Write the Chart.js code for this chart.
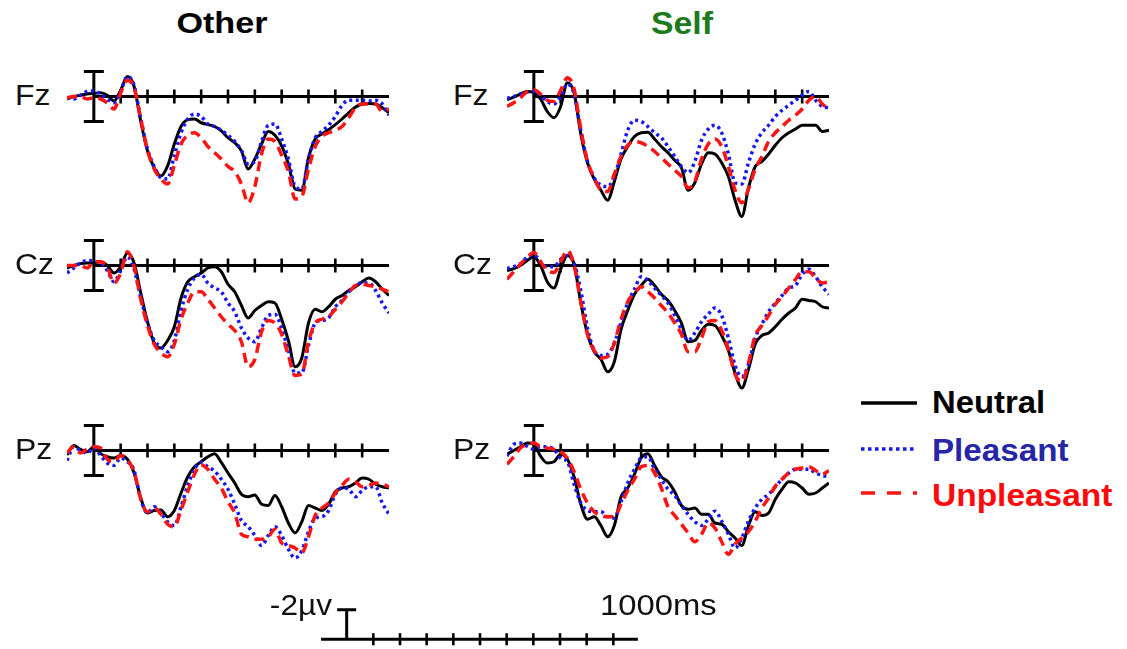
<!DOCTYPE html>
<html>
<head>
<meta charset="utf-8">
<script src="https://cdn.jsdelivr.net/npm/chart.js@4.4.0/dist/chart.umd.min.js"></script>
<style>
  html, body { margin: 0; padding: 0; background: #fff; overflow: hidden; }
  #stage { position: relative; width: 1127px; height: 649px; font-family: "Liberation Sans", Arial, sans-serif; }
  .txt { position: absolute; white-space: nowrap; color: #111; }
  canvas { position: absolute; }
</style>
</head>
<body>
<div id="stage"></div>
<script>
// time points (ms), one value every 25 ms
const times = [-100, -75, -50, -25, 0, 25, 50, 75, 100, 125, 150, 175, 200, 225, 250, 275, 300, 325, 350, 375,
  400, 425, 450, 475, 500, 525, 550, 575, 600, 625, 650, 675, 700, 725, 750, 775, 800, 825, 850, 875,
  900, 925, 950, 975, 1000, 1025, 1050, 1075, 1100];
const tickTimes = [100, 200, 300, 400, 500, 600, 700, 800, 900, 1000];
const conditions = ['Neutral', 'Pleasant', 'Unpleasant'];
const groups = ['Other', 'Self'];
const electrodes = ['Fz', 'Cz', 'Pz'];
const barMicroVolts = 2;

// amplitudes in µV (positive plotted downward)
const otherFzNeutral = [0.2, 0.0, -0.1, -0.2, -0.25, -0.3, -0.1, 0.35, -0.5, -1.6, -0.8, 2.0, 4.35, 5.7, 6.35, 5.55, 3.8, 2.4, 1.85, 1.8,
  2.1, 2.25, 2.4, 2.75, 3.3, 3.7, 4.35, 5.8, 5.0, 3.8, 2.8, 3.1, 3.95, 5.4, 7.4, 7.5, 4.9, 3.4, 3.0, 2.65,
  2.25, 1.8, 1.3, 0.85, 0.6, 0.55, 0.6, 0.9, 1.3];
const otherFzPleasant = [0.1, 0.2, -0.1, -0.4, -0.45, -0.2, 0.2, 0.5, -0.4, -1.6, -0.9, 1.8, 4.2, 5.6, 6.5, 6.6, 4.7, 2.9, 1.8, 1.4,
  1.6, 2.2, 2.4, 2.7, 3.1, 3.6, 4.3, 5.4, 5.2, 3.6, 2.3, 2.2, 3.4, 5.0, 7.2, 7.4, 5.0, 3.3, 2.8, 2.3,
  1.6, 0.7, 0.3, 0.3, 0.3, 0.35, 0.3, 0.6, 1.5];
const otherFzUnpleasant = [0.1, 0.0, 0.0, 0.2, 0.1, 0.2, 0.5, 1.0, -0.3, -1.3, -0.7, 1.8, 4.3, 5.8, 6.6, 7.0, 5.5, 3.8, 3.1, 2.9,
  3.3, 4.0, 4.5, 5.0, 5.6, 6.0, 7.0, 8.5, 7.2, 4.6, 3.4, 3.6, 4.7, 6.0, 8.2, 8.0, 5.8, 4.0, 3.2, 2.9,
  2.7, 2.4, 1.7, 0.9, 0.6, 0.6, 0.6, 1.2, 1.0];

const selfFzNeutral = [0.25, 0.05, -0.2, -0.4, -0.3, 0.2, 1.2, 1.7, 0.8, -1.1, -0.3, 3.0, 5.3, 6.6, 7.5, 8.3, 6.8, 5.0, 4.0, 3.2,
  2.9, 2.85, 3.4, 4.0, 4.5, 5.1, 5.7, 7.5, 6.9, 5.4, 4.5, 4.6, 5.3, 6.4, 8.3, 9.6, 7.3, 5.6, 5.2, 4.6,
  3.9, 3.3, 2.9, 2.6, 2.3, 2.3, 2.3, 2.8, 2.7];
const selfFzPleasant = [0.15, 0.0, -0.2, -0.35, -0.4, -0.1, 0.4, 0.6, 0.0, -1.0, -0.2, 2.7, 5.2, 6.5, 7.1, 7.2, 6.4, 4.6, 2.7, 1.9,
  2.0, 2.4, 2.9, 3.3, 4.0, 4.8, 5.6, 6.1, 5.2, 3.5, 2.6, 2.3, 2.9, 4.6, 6.9, 7.0, 5.3, 3.8, 2.9, 2.3,
  1.6, 1.1, 0.7, 0.3, -0.1, -0.4, 0.3, 0.8, 0.9];
const selfFzUnpleasant = [0.8, 0.5, 0.1, -0.4, -0.55, -0.2, 0.3, 0.4, -0.5, -1.5, -0.6, 2.6, 5.2, 6.5, 7.5, 7.6, 6.2, 4.8, 3.9, 3.6,
  3.7, 4.0, 4.4, 4.9, 5.4, 5.9, 6.4, 7.3, 6.8, 5.0, 3.8, 3.4, 4.0, 5.6, 7.5, 8.5, 7.4, 5.8, 4.8, 3.6,
  2.9, 2.4, 1.9, 1.5, 1.0, 0.3, 0.0, 0.6, 1.0];

const otherCzNeutral = [0.2, 0.0, -0.15, -0.2, -0.2, -0.3, 0.0, 0.6, 0.1, -1.0, -0.2, 2.2, 4.5, 6.2, 6.6, 6.0, 4.9, 2.6, 1.3, 0.9,
  0.6, 0.2, 0.1, 0.5, 1.5, 2.1, 3.2, 4.2, 3.6, 3.2, 2.9, 3.0, 4.3, 6.0, 8.1, 7.4, 4.6, 3.5, 3.7, 3.3,
  2.7, 2.4, 2.0, 1.7, 1.3, 1.0, 1.3, 1.9, 2.4];
const otherCzPleasant = [0.6, 0.2, -0.2, -0.4, -0.35, -0.2, 0.4, 1.3, 0.4, -0.7, 0.3, 2.6, 4.6, 6.0, 6.5, 6.9, 6.0, 3.6, 1.9, 1.0,
  0.7, 1.4, 1.8, 2.1, 3.0, 3.7, 5.0, 5.8, 6.1, 5.0, 4.0, 3.9, 5.0, 6.8, 8.6, 8.6, 6.4, 4.6, 4.4, 4.2,
  3.3, 2.8, 2.1, 1.6, 1.4, 1.4, 2.0, 3.0, 3.8];
const otherCzUnpleasant = [0.0, 0.0, 0.0, 0.2, -0.3, -0.3, 0.1, 1.4, 0.6, -1.1, 0.1, 2.7, 4.8, 6.3, 7.0, 7.3, 6.3, 4.3, 3.0, 2.1,
  2.1, 2.7, 3.4, 4.1, 4.7, 5.2, 6.1, 8.1, 7.5, 5.3, 4.4, 4.6, 5.5, 7.2, 8.8, 8.7, 6.1, 4.6, 4.3, 4.1,
  3.5, 2.9, 2.2, 1.6, 1.5, 1.6, 1.7, 1.9, 2.1];

const selfCzNeutral = [0.4, 0.25, 0.0, -0.4, -0.7, 0.0, 1.3, 1.8, 0.3, -0.8, -0.1, 3.0, 5.5, 6.9, 7.5, 8.5, 7.7, 5.1, 3.6, 2.3,
  1.6, 1.1, 1.6, 2.3, 2.8, 3.6, 4.6, 6.1, 6.0, 5.2, 4.7, 4.8, 5.6, 6.8, 8.6, 9.8, 8.3, 6.3, 5.6, 5.4,
  4.9, 4.3, 3.8, 3.4, 2.7, 2.8, 2.9, 3.3, 3.4];
const selfCzPleasant = [0.25, 0.1, -0.15, -0.65, -0.85, -0.3, 0.1, 0.1, -0.5, -0.8, -0.2, 2.0, 5.0, 6.8, 7.2, 7.1, 6.2, 4.6, 3.0, 1.9,
  0.9, 1.2, 1.8, 2.4, 3.0, 4.0, 5.1, 6.0, 5.4, 4.5, 3.9, 3.4, 4.0, 5.8, 8.0, 8.9, 7.9, 5.8, 4.7, 3.7,
  3.0, 2.4, 1.8, 1.6, 0.7, 0.3, 0.9, 1.7, 2.3];
const selfCzUnpleasant = [1.1, 0.5, -0.1, -0.65, -1.05, -0.3, 0.4, 0.55, -0.3, -1.2, 0.0, 2.9, 5.5, 6.8, 7.4, 7.3, 6.2, 4.3, 2.9, 2.2,
  1.7, 2.1, 2.6, 3.2, 3.8, 4.6, 5.5, 6.9, 6.9, 5.8, 4.5, 4.4, 5.2, 6.7, 8.7, 9.3, 7.8, 5.6, 4.8, 4.0,
  3.1, 2.5, 1.8, 1.1, 0.5, 0.5, 1.0, 1.4, 1.3];

const otherPzNeutral = [0.35, -0.4, -0.1, 0.1, -0.3, 0.25, 0.5, 0.6, 0.4, 0.7, 1.8, 3.8, 5.0, 4.8, 4.75, 5.3, 4.8, 3.4, 2.1, 1.3,
  0.9, 0.5, 0.25, 0.95, 1.8, 2.6, 3.5, 3.7, 3.55, 4.3, 4.4, 3.6, 4.5, 5.8, 6.6, 5.7, 4.4, 4.6, 4.8, 4.3,
  3.3, 3.0, 2.9, 2.6, 2.2, 2.3, 2.7, 2.9, 3.0];
const otherPzPleasant = [0.8, -0.3, 0.0, 0.2, -0.2, 0.4, 1.0, 1.2, 0.6, 0.9, 1.6, 3.9, 5.0, 4.5, 5.0, 5.7, 6.0, 4.5, 2.8, 1.5,
  0.95, 1.3, 1.65, 2.3, 3.1, 4.3, 5.6, 6.1, 6.8, 7.6, 6.8, 6.1, 6.8, 7.9, 8.6, 8.0, 6.5, 5.4, 5.3, 4.8,
  3.5, 3.0, 3.1, 3.7, 3.2, 2.9, 2.9, 4.2, 5.1];
const otherPzUnpleasant = [0.2, -0.3, 0.2, -0.1, -0.3, -0.2, 0.7, 0.9, 0.4, 0.75, 1.7, 3.9, 4.9, 4.6, 5.1, 5.9, 6.1, 4.75, 3.3, 1.9,
  1.15, 1.5, 2.3, 3.0, 4.1, 5.0, 6.7, 6.9, 7.1, 7.1, 6.9, 6.3, 7.4, 7.6, 7.8, 8.2, 6.9, 5.2, 4.6, 4.2,
  3.4, 2.8, 2.3, 2.5, 2.9, 2.8, 2.6, 2.7, 2.9];

const selfPzNeutral = [0.3, 0.0, -0.3, -0.6, -0.5, 0.45, 1.0, 0.9, 0.3, 0.7, 2.1, 4.3, 5.5, 5.3, 6.0, 6.9, 6.0, 3.7, 3.0, 1.9,
  0.6, 0.25, 1.2, 2.1, 2.5, 3.3, 4.4, 4.7, 4.6, 5.1, 5.1, 5.8, 5.9, 6.5, 7.0, 7.6, 6.0, 4.9, 5.2, 5.0,
  3.9, 3.1, 2.5, 2.6, 3.0, 3.5, 3.4, 3.0, 2.6];
const selfPzPleasant = [0.45, -0.5, -0.6, -0.35, -0.1, -0.3, -0.3, -0.1, 0.6, 0.9, 2.7, 4.2, 4.8, 4.9, 4.9, 5.3, 5.4, 4.1, 2.6, 1.5,
  0.6, 0.5, 1.5, 2.3, 3.1, 3.6, 4.4, 5.1, 5.7, 6.0, 5.5, 4.85, 5.65, 6.7, 7.8, 7.0, 5.65, 4.6, 3.9, 3.5,
  2.9, 2.3, 1.8, 1.5, 1.5, 1.5, 1.8, 2.0, 2.1];
const selfPzUnpleasant = [1.1, 0.5, -0.2, -0.5, -0.6, -0.3, -0.2, -0.1, 0.1, 0.6, 1.7, 3.1, 4.2, 4.9, 5.2, 5.3, 5.3, 4.3, 3.2, 2.3,
  1.3, 1.2, 1.8, 3.0, 4.5, 5.2, 5.9, 6.6, 7.3, 6.7, 5.8, 6.2, 7.3, 8.3, 7.5, 7.0, 6.5, 5.65, 4.6, 3.8,
  2.85, 2.3, 1.8, 1.5, 1.4, 1.3, 1.6, 1.9, 1.6];

const waves = {
  Other: {
    Fz: [otherFzNeutral, otherFzPleasant, otherFzUnpleasant],
    Cz: [otherCzNeutral, otherCzPleasant, otherCzUnpleasant],
    Pz: [otherPzNeutral, otherPzPleasant, otherPzUnpleasant]
  },
  Self: {
    Fz: [selfFzNeutral, selfFzPleasant, selfFzUnpleasant],
    Cz: [selfCzNeutral, selfCzPleasant, selfCzUnpleasant],
    Pz: [selfPzNeutral, selfPzPleasant, selfPzUnpleasant]
  }
};

// ---- layout / style ----
const colLeft = { Other: 67, Self: 507 };      // pixel of -100 ms
const rowZero = { Fz: 96, Cz: 265, Pz: 450 };   // pixel of 0 µV
const labelLeft = { Other: 15, Self: 453 };
const PX_PER_UV = 12.5;
const Y_MIN = -3, Y_MAX = 11, PAD = 8;

const lineStyles = [
  { color: '#000000', width: 3, dash: [], order: 2 },
  { color: '#1717f2', width: 3.5, dash: [3, 3.5], order: 1 },
  { color: '#ff1414', width: 3.5, dash: [10, 6], order: 0 }
];

const stage = document.getElementById('stage');

// text is slightly stretched horizontally in the original figure
function addText(text, opts) {
  const d = document.createElement('div');
  d.className = 'txt';
  d.textContent = text;
  const h = 40;
  d.style.height = h + 'px';
  d.style.lineHeight = h + 'px';
  d.style.top = (opts.cy - h / 2) + 'px';
  d.style.fontSize = opts.size + 'px';
  if (opts.bold) d.style.fontWeight = 'bold';
  if (opts.color) d.style.color = opts.color;
  let origin = 'left';
  if (opts.center !== undefined) {
    d.style.left = (opts.center - 150) + 'px';
    d.style.width = '300px';
    d.style.textAlign = 'center';
    origin = 'center';
  } else if (opts.right !== undefined) {
    d.style.left = (opts.right - 300) + 'px';
    d.style.width = '300px';
    d.style.textAlign = 'right';
    origin = 'right';
  } else {
    d.style.left = opts.left + 'px';
  }
  if (opts.sx) {
    d.style.transform = 'scaleX(' + opts.sx + ')';
    d.style.transformOrigin = origin + ' center';
  }
  stage.appendChild(d);
}

function addCanvas(left, top, w, h) {
  const c = document.createElement('canvas');
  c.width = w;
  c.height = h;
  c.style.left = left + 'px';
  c.style.top = top + 'px';
  c.style.width = w + 'px';
  c.style.height = h + 'px';
  stage.appendChild(c);
  return c;
}

// zero line, 100 ms ticks and the amplitude bar at stimulus onset
const erpAxis = {
  id: 'erpAxis',
  beforeDatasetsDraw(chart, args, opts) {
    const { ctx } = chart;
    const x = chart.scales.x, y = chart.scales.y;
    const y0 = y.getPixelForValue(0);
    ctx.save();
    ctx.strokeStyle = '#000';
    ctx.lineCap = 'butt';
    ctx.lineWidth = 3;
    ctx.beginPath();
    ctx.moveTo(x.getPixelForValue(opts.from), y0);
    ctx.lineTo(x.getPixelForValue(opts.to), y0);
    ctx.stroke();
    ctx.lineWidth = 2.6;
    ctx.beginPath();
    tickTimes.forEach(t => {
      const px = x.getPixelForValue(t);
      ctx.moveTo(px, y0 - opts.tick);
      ctx.lineTo(px, y0 + opts.tick);
    });
    ctx.stroke();
    const bx = x.getPixelForValue(0);
    const yt = y.getPixelForValue(opts.barTop);
    const yb = y.getPixelForValue(opts.barBottom);
    ctx.lineWidth = 3;
    ctx.beginPath();
    ctx.moveTo(bx, yt);
    ctx.lineTo(bx, yb);
    ctx.moveTo(bx - opts.cap, yt);
    ctx.lineTo(bx + opts.cap, yt);
    if (opts.bottomCap) {
      ctx.moveTo(bx - opts.cap, yb);
      ctx.lineTo(bx + opts.cap, yb);
    }
    ctx.stroke();
    ctx.restore();
  }
};

function drawPanel(group, el) {
  const areaW = 322;
  const areaH = (Y_MAX - Y_MIN) * PX_PER_UV;
  const left = colLeft[group] - PAD;
  const top = Math.round(rowZero[el] + Y_MIN * PX_PER_UV - PAD);
  const canvas = addCanvas(left, top, areaW + 2 * PAD, areaH + 2 * PAD);
  const series = waves[group][el];
  new Chart(canvas, {
    type: 'line',
    data: {
      datasets: series.map((vals, i) => ({
        label: conditions[i],
        data: times.map((t, k) => ({ x: t, y: vals[k] })),
        borderColor: lineStyles[i].color,
        borderWidth: lineStyles[i].width,
        borderDash: lineStyles[i].dash,
        order: lineStyles[i].order,
        pointRadius: 0,
        fill: false,
        cubicInterpolationMode: 'monotone'
      }))
    },
    options: {
      responsive: false,
      animation: false,
      events: [],
      layout: { padding: PAD },
      plugins: {
        legend: { display: false },
        tooltip: { enabled: false },
        erpAxis: { from: 0, to: 1100, tick: 7, barTop: -barMicroVolts, barBottom: barMicroVolts, cap: 10, bottomCap: true }
      },
      scales: {
        x: { type: 'linear', min: -100, max: 1100, display: false },
        y: { type: 'linear', min: Y_MIN, max: Y_MAX, reverse: true, display: false }
      }
    },
    plugins: [erpAxis]
  });
  addText(el, { left: labelLeft[group], cy: rowZero[el] - 1, size: 29, sx: 1.1 });
}

groups.forEach(g => electrodes.forEach(e => drawPanel(g, e)));

// column titles
addText('Other', { center: 222, cy: 23, size: 30, bold: true, color: '#000', sx: 1.14 });
addText('Self', { center: 682, cy: 24, size: 31, bold: true, color: '#1d7a1d', sx: 1.09 });

// time / amplitude scale bar
(function () {
  const canvas = addCanvas(312, 598, 336, 50);
  new Chart(canvas, {
    type: 'line',
    data: { datasets: [{ data: [], pointRadius: 0 }] },
    options: {
      responsive: false,
      animation: false,
      events: [],
      layout: { padding: { left: 8, right: 8, top: 0, bottom: 0 } },
      plugins: {
        legend: { display: false },
        tooltip: { enabled: false },
        erpAxis: { from: -96, to: 1092, tick: 6, barTop: -barMicroVolts, barBottom: 0, cap: 9.5, bottomCap: false }
      },
      scales: {
        x: { type: 'linear', min: -100, max: 1100, display: false },
        y: { type: 'linear', min: -2.8, max: 0.6, reverse: true, display: false }
      }
    },
    plugins: [erpAxis]
  });
})();
addText('-2\u00b5v', { right: 332, cy: 605, size: 29, sx: 1.09 });
addText('1000ms', { left: 600, cy: 605, size: 29, sx: 1.13 });

// legend
(function () {
  const c = addCanvas(855, 385, 70, 125);
  const ctx = c.getContext('2d');
  const rows = [18, 64, 108];
  lineStyles.forEach((s, i) => {
    ctx.save();
    ctx.strokeStyle = s.color;
    ctx.lineWidth = 3.5;
    ctx.setLineDash(i === 1 ? [3.5, 3.5] : i === 2 ? [14, 12] : []);
    ctx.beginPath();
    ctx.moveTo(6, rows[i]);
    ctx.lineTo(62, rows[i]);
    ctx.stroke();
    ctx.restore();
  });
})();
addText('Neutral', { left: 932, cy: 403, size: 31, bold: true, color: '#000', sx: 1.06 });
addText('Pleasant', { left: 932, cy: 451, size: 31, bold: true, color: '#2626a6', sx: 1.07 });
addText('Unpleasant', { left: 932, cy: 496, size: 31, bold: true, color: '#ff0a0a', sx: 1.08 });
</script>
</body>
</html>
